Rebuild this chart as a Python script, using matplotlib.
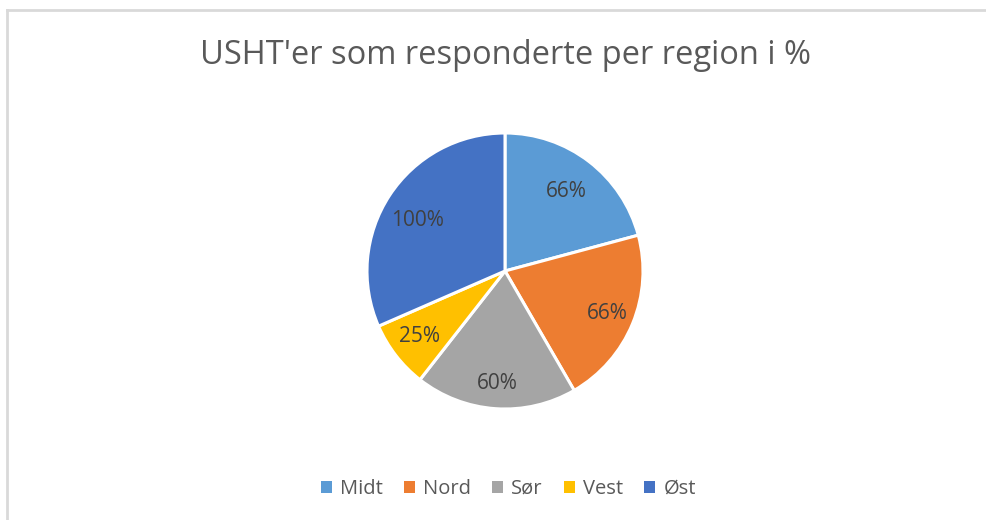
import numpy as np
import matplotlib.pyplot as plt
from matplotlib.lines import Line2D
from matplotlib.patches import Patch

regions = ['Midt', 'Nord', 'Sør', 'Vest', 'Øst']
values = [66, 66, 60, 25, 100]
labels = ['66%', '66%', '60%', '25%', '100%']
colors = ['#5B9BD5', '#ED7D31', '#A5A5A5', '#FFC000', '#4472C4']
# radial placement of the data labels (fraction of radius)
label_r = [0.73, 0.80, 0.82, 0.78, 0.73]

plt.rcParams['font.family'] = ['Open Sans', 'DejaVu Sans']
txt = '#595959'

fig = plt.figure(figsize=(9.87, 5.2), dpi=100)

# outer chart frame (top and left visible)
fig.add_artist(Line2D([7/987, 7/987], [0, 1 - 10/520], color='#D9D9D9', lw=2))
fig.add_artist(Line2D([7/987, 1], [1 - 10/520, 1 - 10/520], color='#D9D9D9', lw=2))

fig.text(0.512, 1 - 55/520, "USHT'er som responderte per region i %", ha='center', va='center',
         fontsize=23.5, color=txt)

ax = fig.add_axes([(505 - 138) / 987, (520 - 409) / 520, 276 / 987, 276 / 520])
wedges, texts = ax.pie(values, colors=colors, startangle=90, counterclock=False,
                       labels=labels, labeldistance=0.73,
                       wedgeprops=dict(edgecolor='white', linewidth=2.2),
                       textprops=dict(color='#404040', fontsize=15, ha='center', va='center'))
for w, t, r in zip(wedges, texts, label_r):
    ang = np.deg2rad((w.theta1 + w.theta2) / 2 + (3 if t.get_text() == '100%' else 0))
    t.set_position((r * np.cos(ang), r * np.sin(ang)))
    t.set_horizontalalignment('center')
ax.set_xlim(-1, 1)
ax.set_ylim(-1, 1)
ax.set_aspect('equal')

handles = [Patch(facecolor=c, edgecolor='none') for c in colors]
fig.legend(handles, regions, loc='center', bbox_to_anchor=(0.515, 1 - 489/520), ncol=5,
           frameon=False, fontsize=14.5, labelcolor=txt, handlelength=0.55, handleheight=0.55,
           handletextpad=0.4, columnspacing=1.05)

fig.savefig('out.png', dpi=100)
